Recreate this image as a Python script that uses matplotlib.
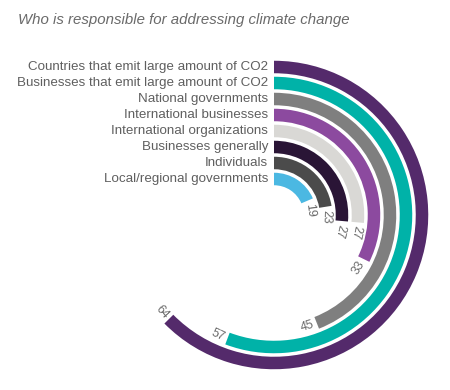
import numpy as np
import matplotlib
matplotlib.use("Agg")
import matplotlib.pyplot as plt

# Data (outermost first, as listed)
categories = [
    "Countries that emit large amount of CO2",
    "Businesses that emit large amount of CO2",
    "National governments",
    "International businesses",
    "International organizations",
    "Businesses generally",
    "Individuals",
    "Local/regional governments",
]
values = [64, 57, 45, 33, 27, 27, 23, 19]
colors = ["#542a6b", "#00b2a8", "#7f7f7f", "#8c4a9f", "#d9d8d5", "#2a1536", "#4b4b4b", "#4bb8e2"]
title = "Who is responsible for addressing climate change"

W, H = 450, 390
fig = plt.figure(figsize=(W / 100, H / 100), dpi=100)
fig.patch.set_facecolor("white")

cx, cy, R = 274, 215, 160  # pixel centre and radius of polar axes box
ax = fig.add_axes([(cx - R) / W, (H - cy - R) / H, 2 * R / W, 2 * R / H], projection="polar")
ax.set_theta_zero_location("N")
ax.set_theta_direction(-1)
ax.set_ylim(0, R)
ax.set_axis_off()

n = len(categories)
r_inner, pitch, thick = 36, 16, 12.5
radii = [r_inner + pitch * (n - 1 - i) for i in range(n)]
deg_per_unit = 3.52
theta = [np.deg2rad(v * deg_per_unit) for v in values]

ax.barh(radii, theta, left=0, height=thick, color=colors, edgecolor="none")

for cat, r in zip(categories, radii):
    ax.annotate(cat, xy=(0, r), xytext=(-6, 0), textcoords="offset pixels",
                ha="right", va="center", fontsize=9.6, color="#5f5f5f",
                family="Liberation Sans", annotation_clip=False)

for v, r, th in zip(values, radii, theta):
    t = th + 10 / r
    deg = np.rad2deg(t)
    rot = -deg
    if rot < -105:
        rot += 180
    ax.text(t, r, str(v), rotation=rot, rotation_mode="anchor", ha="center", va="center",
            fontsize=8.8, color="#6a6a6a", family="Liberation Sans", clip_on=False)

fig.text(18 / W, 1 - 20 / H, title, ha="left", va="center", fontsize=10.8,
         style="italic", color="#6a6a6a", family="Liberation Sans")

fig.savefig("out.png", dpi=100, facecolor="white")
